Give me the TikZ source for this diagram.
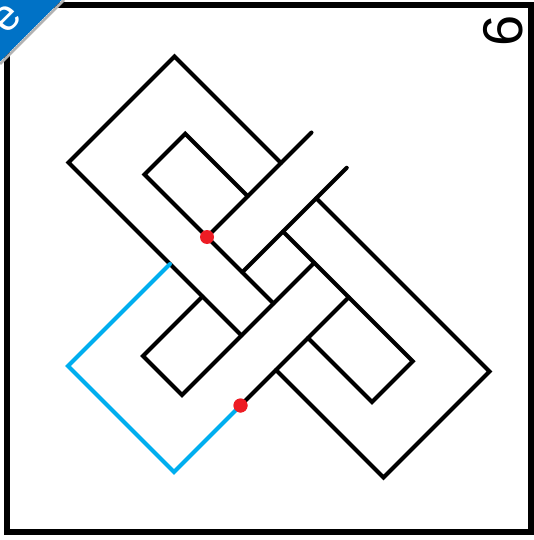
\documentclass[tikz,border=0pt]{standalone}
\usepackage{fontspec}
\newfontfamily\numberfont{Liberation Sans}
\usetikzlibrary{positioning}
\definecolor{CutColor}{RGB}{0, 174, 239}
\definecolor{DotColor}{RGB}{237, 28, 36}
\definecolor{CornerColor}{RGB}{0, 114, 198}

\begin{document}
\begin{tikzpicture}[
    x=1pt, y=-1pt, % pixel units, y pointing down
    band/.style={black, line width=4pt, line cap=round},
    cutband/.style={CutColor, line width=4pt, line cap=round},
    knotdot/.style={circle, fill=DotColor, inner sep=0pt, minimum size=14pt} % Style for the cut points
]
\useasboundingbox (0,0) rectangle (533,540);

% --- Outer frame ---
\draw[line width=6pt] (7,5) rectangle (530.5,532);

% --- Corner ribbon (top left) ---
\begin{scope}
    \clip (0,0) -- (62,0) -- (0,62) -- cycle;
    \fill[CornerColor] (0,0) -- (62,0) -- (0,62) -- cycle;
    \node[white, rotate=45, font=\numberfont\fontsize{44}{44}\selectfont] (ribbon) at (7,19) {e};
\end{scope}
\draw[gray!60, line width=2.5pt] (64,0) -- (0,64);

% --- Figure number (turned) ---
\node[rotate=90, inner sep=0pt, font=\numberfont\fontsize{56}{56}\selectfont] (number) at (503,31) {6};

% --- Knot, drawn in a turned frame: s runs down-right, d runs up-right ---
\begin{scope}[x={(0.5pt,-0.5pt)}, y={(0.5pt,0.5pt)}]

    % Long loop, upper half (passes under the left strand at the top)
    \draw[band] (444,118) -- (231,118) -- (231,-94) -- (577,-94);
    \draw[band] (444,51.5) -- (319,51.5) -- (319,-30) -- (577,-30);

    % Long loop, lower half
    \draw[band] (514.5,118) -- (861,118) -- (861,-94) -- (646,-94);
    \draw[band] (514.5,51.5) -- (774,51.5) -- (774,-30) -- (646,-30);

    % Open strand with its two loose ends
    \foreach \s in {444,514.5}
        \draw[band] (\s,179) -- (\s,-30);

    % Lower loop of the open strand
    \draw[band] (499,-94) -- (499,-213) -- (577,-213) -- (577,51.5);
    \draw[band] (646,-165) -- (646,51.5);

    % Cut points
    \node[knotdot] (cutA) at (444,-30) {};
    \node[knotdot] (cutB) at (646,-165) {};

    % Cut-away part in blue
    \draw[cutband] (434,-94) -- (434,-298) -- (646,-298) -- (cutB.center);
    \node[knotdot] at (cutB) {};

\end{scope}

\end{tikzpicture}
\end{document}
